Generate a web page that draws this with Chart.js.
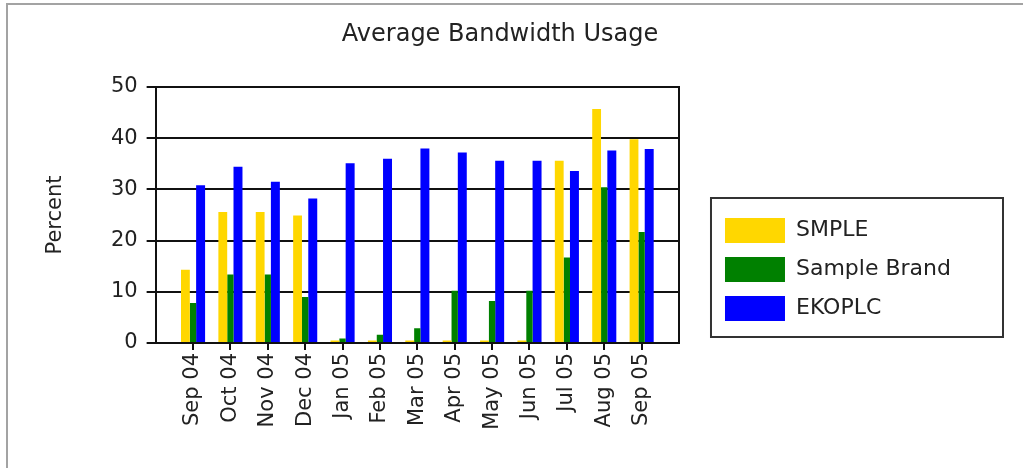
<!DOCTYPE html>
<html>
<head>
<meta charset="utf-8">
<title>Average Bandwidth Usage</title>
<script src="https://cdn.jsdelivr.net/npm/chart.js@4/dist/chart.umd.min.js"></script>
<style>
  html, body { margin: 0; padding: 0; background: #fff; }
  .wrap { position: relative; width: 1023px; height: 468px; }
  .frame {
    position: absolute; left: 6px; top: 3px; right: 0; bottom: 0;
    border-left: 2px solid #a3a3a3; border-top: 2px solid #a3a3a3;
    pointer-events: none;
  }
</style>
</head>
<body>
<div class="wrap">
  <canvas id="myChart"></canvas>
  <div class="frame"></div>
</div>
<script>
const months = ['Sep 04', 'Oct 04', 'Nov 04', 'Dec 04', 'Jan 05', 'Feb 05', 'Mar 05',
  'Apr 05', 'May 05', 'Jun 05', 'Jul 05', 'Aug 05', 'Sep 05'];
const smple = [14.3, 25.6, 25.6, 24.9, 0.5, 0.5, 0.5, 0.5, 0.5, 0.5, 35.6, 45.7, 39.8];
const sampleBrand = [7.8, 13.4, 13.4, 9.0, 0.9, 1.6, 2.9, 10.2, 8.2, 10.2, 16.7, 30.4, 21.7];
const ekoplc = [30.8, 34.4, 31.5, 28.2, 35.1, 36.0, 38.0, 37.2, 35.6, 35.6, 33.6, 37.6, 37.9];
const yTicks = [0, 10, 20, 30, 40, 50];

// empty slot at each end so the bars sit in from the frame like the original
const pad = arr => [null, ...arr, null];

Chart.defaults.font.family = "'DejaVu Sans', sans-serif";
Chart.defaults.color = '#222';

// outline around the legend
const legendBox = {
  id: 'legendBox',
  afterDraw(chart) {
    const lg = chart.legend;
    const hb = lg.legendHitBoxes;
    if (!hb || !hb.length) return;
    const last = hb[hb.length - 1];
    const top = hb[0].top - 20;
    const ctx = chart.ctx;
    ctx.save();
    ctx.strokeStyle = '#333';
    ctx.lineWidth = 2;
    ctx.strokeRect(lg.left, top, chart.width - 20 - lg.left, last.top + last.height + 16 - top);
    ctx.restore();
  }
};

const grOne = document.getElementById('myChart');

new Chart(grOne, {
  type: 'bar',
  data: {
    labels: pad(months),
    datasets: [{
      label: 'SMPLE',
      data: pad(smple),
      backgroundColor: '#ffd700',
      barPercentage: 1.16
    }, {
      label: 'Sample Brand',
      data: pad(sampleBrand),
      backgroundColor: '#008000',
      barPercentage: 0.83
    }, {
      label: 'EKOPLC',
      data: pad(ekoplc),
      backgroundColor: '#0000ff',
      barPercentage: 1.18
    }]
  },
  options: {
    responsive: true,
    maintainAspectRatio: false,
    animation: false,
    categoryPercentage: 0.61,
    layout: {
      padding: { left: 39, right: 62, top: 0, bottom: 0 }
    },
    plugins: {
      title: {
        display: true,
        text: 'Average Bandwidth Usage',
        font: { size: 24, weight: 'normal' },
        padding: { top: 20, bottom: 38.2 }
      },
      legend: {
        position: 'right',
        maxWidth: 320,
        title: {
          display: true,
          text: '',
          font: { size: 10, lineHeight: 1 },
          padding: { top: 61, bottom: 0 }
        },
        labels: {
          boxWidth: 60,
          boxHeight: 25,
          padding: 14,
          font: { size: 22 },
          color: '#222'
        }
      },
      tooltip: { enabled: false }
    },
    scales: {
      x: {
        offset: false,
        grid: {
          offset: false,
          drawOnChartArea: false,
          drawTicks: true,
          tickLength: 7,
          color: '#111',
          lineWidth: 2
        },
        border: { display: true, color: '#111', width: 2 },
        ticks: {
          autoSkip: false,
          minRotation: 90,
          maxRotation: 90,
          padding: 3,
          font: { size: 21 },
          color: '#222'
        },
        afterFit(scale) { scale.height = 125; }
      },
      y: {
        min: 0,
        max: 50,
        afterBuildTicks(scale) { scale.ticks = yTicks.map(v => ({ value: v })); },
        grid: { color: '#111', lineWidth: 2, tickLength: 9 },
        border: { display: true, color: '#111', width: 2 },
        ticks: { padding: 9, font: { size: 21 }, color: '#222' },
        title: {
          display: true,
          text: 'Percent',
          font: { size: 21 },
          color: '#222',
          padding: { top: 4, bottom: 33.7 }
        }
      },
      y2: {
        position: 'right',
        min: 0,
        max: 50,
        grid: { drawOnChartArea: false, drawTicks: false },
        border: { display: true, color: '#111', width: 2 },
        ticks: { display: false },
        afterFit(scale) { scale.width = 32; }
      }
    }
  },
  plugins: [legendBox]
});
</script>
</body>
</html>
